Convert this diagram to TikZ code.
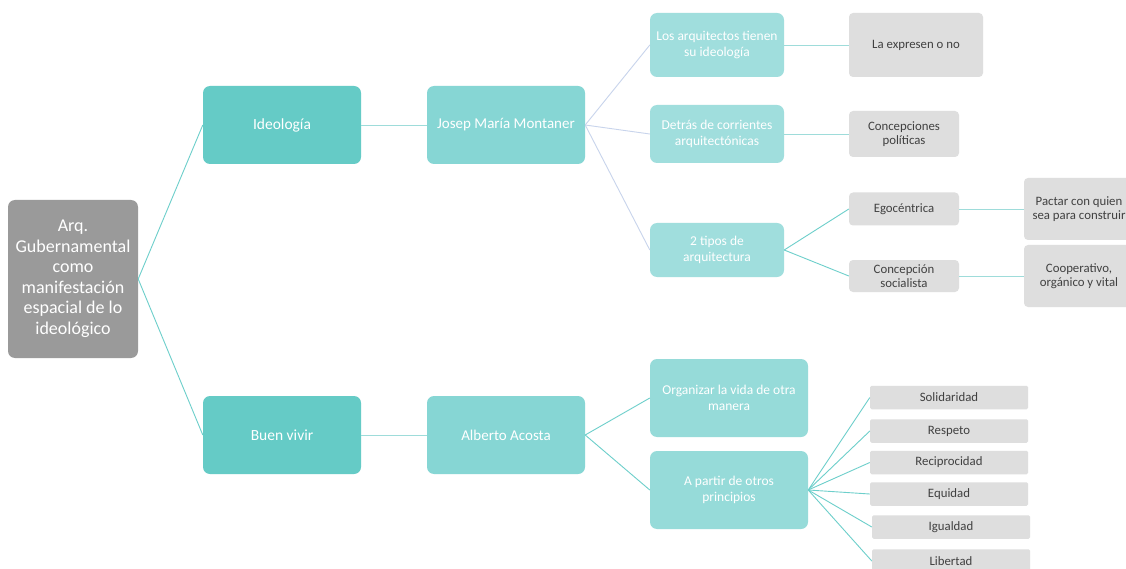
\documentclass[tikz,border=0pt]{standalone}
\usepackage{fontspec}
\setmainfont{Carlito}
\definecolor{rootgray}{HTML}{9A9A9A}
\definecolor{tealA}{HTML}{65CBC6}
\definecolor{tealB}{HTML}{86D6D4}
\definecolor{tealC}{HTML}{A0DEDD}
\definecolor{tealD}{HTML}{96DBD9}
\definecolor{boxgray}{HTML}{DEDEDE}
\definecolor{txtgray}{HTML}{404040}
\definecolor{lineteal}{HTML}{6DCFCB}
\definecolor{linelight}{HTML}{9EDCDA}
\definecolor{linelav}{HTML}{C8D4EC}
\begin{document}
\begin{tikzpicture}[x=1pt,y=-1pt,
  base/.style={draw=none,rounded corners=7pt,inner sep=0pt,align=center},
  rootbox/.style={base,fill=rootgray,text=white,minimum width=130pt,minimum height=158pt,font=\fontsize{18}{20.5}\selectfont},
  lvlA/.style={base,fill=tealA,text=white,minimum width=158pt,minimum height=78pt,font=\fontsize{15.5}{18}\selectfont},
  lvlB/.style={base,fill=tealB,text=white,minimum width=158pt,minimum height=78pt,font=\fontsize{15}{18}\selectfont},
  lvlC/.style={base,fill=tealC,text=white,font=\fontsize{13.5}{16}\selectfont},
  lvlD/.style={base,fill=tealD,text=white,minimum width=158pt,minimum height=78pt,font=\fontsize{13.5}{16}\selectfont},
  graybox/.style={base,rounded corners=4pt,fill=boxgray,text=txtgray,font=\fontsize{12.8}{14.5}\selectfont},
  conn/.style={draw=lineteal,line width=0.9pt},
  connlight/.style={draw=linelight,line width=0.9pt},
  connlav/.style={draw=linelav,line width=0.9pt}
]
\useasboundingbox (0,0) rectangle (1126,569);
\fill[white] (0,0) rectangle (1126,569);

% root
\node[rootbox] (root) at (73,279) {Arq.\\Gubernamental\\como\\manifestación\\espacial de lo\\ideológico};

% level 1
\node[lvlA] (ideo) at (282,125) {Ideología};
\node[lvlA] (buen) at (282,435) {Buen vivir};

% level 2
\node[lvlB] (josep) at (506,125) {Josep María Montaner};
\node[lvlB] (alberto) at (506,435) {Alberto Acosta};

% level 3 (top)
\node[lvlC,minimum width=134pt,minimum height=64pt] (losarq) at (717,45) {Los arquitectos tienen\\su ideología};
\node[lvlC,minimum width=134pt,minimum height=58pt] (detras) at (717,134) {Detrás de corrientes\\arquitectónicas};
\node[lvlC,minimum width=134pt,minimum height=54pt] (tipos) at (717,250) {2 tipos de\\arquitectura};

% level 4 (top)
\node[graybox,minimum width=134pt,minimum height=64pt] (expresen) at (916,45) {La expresen o no};
\node[graybox,minimum width=110pt,minimum height=46pt] (concep) at (904,134) {Concepciones\\políticas};
\node[graybox,minimum width=110pt,minimum height=33pt] (ego) at (904,209) {Egocéntrica};
\node[graybox,minimum width=110pt,minimum height=32pt] (social) at (904,276) {Concepción\\socialista};

% level 5
\node[graybox,minimum width=110pt,minimum height=62pt] (pactar) at (1079,209) {Pactar con quien\\sea para construir};
\node[graybox,minimum width=110pt,minimum height=62pt] (coop) at (1079,276) {Cooperativo,\\orgánico y vital};

% level 3 (bottom)
\node[lvlD] (organizar) at (729,398) {Organizar la vida de otra\\manera};
\node[lvlD] (apartir) at (729,490) {A partir de otros\\principios};

% principles
\node[graybox,rounded corners=1.5pt,minimum width=158pt,minimum height=23.5pt] (soli) at (949,397.5) {Solidaridad};
\node[graybox,rounded corners=1.5pt,minimum width=158pt,minimum height=23.5pt] (resp) at (949,431) {Respeto};
\node[graybox,rounded corners=1.5pt,minimum width=158pt,minimum height=23.5pt] (reci) at (949,462.5) {Reciprocidad};
\node[graybox,rounded corners=1.5pt,minimum width=158pt,minimum height=23.5pt] (equi) at (949,494) {Equidad};
\node[graybox,rounded corners=1.5pt,minimum width=158pt,minimum height=23.5pt] (igual) at (951,527) {Igualdad};
\node[graybox,rounded corners=1.5pt,minimum width=158pt,minimum height=23.5pt] (liber) at (951,561) {Libertad};

% connectors
\draw[conn] (root.east) -- (ideo.west);
\draw[conn] (root.east) -- (buen.west);
\draw[connlight] (ideo.east) -- (josep.west);
\draw[connlight] (buen.east) -- (alberto.west);
\draw[connlav] (josep.east) -- (losarq.west);
\draw[connlav] (josep.east) -- (detras.west);
\draw[connlav] (josep.east) -- (tipos.west);
\draw[connlight] (losarq.east) -- (expresen.west);
\draw[connlight] (detras.east) -- (concep.west);
\draw[conn] (tipos.east) -- (ego.west);
\draw[conn] (tipos.east) -- (social.west);
\draw[connlight] (ego.east) -- (pactar.west);
\draw[connlight] (social.east) -- (coop.west);
\draw[conn] (alberto.east) -- (organizar.west);
\draw[conn] (alberto.east) -- (apartir.west);
\foreach \p in {soli,resp,reci,equi,igual,liber}
  \draw[conn] (apartir.east) -- (\p.west);
\end{tikzpicture}
\end{document}
